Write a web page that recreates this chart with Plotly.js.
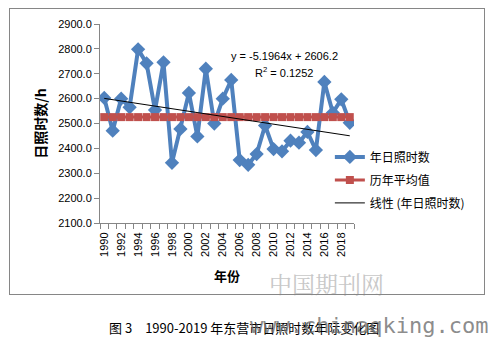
<!DOCTYPE html>
<html><head><meta charset="utf-8">
<script src="https://cdn.plot.ly/plotly-3.0.1.min.js"></script>
<style>
html,body{margin:0;padding:0;background:#fff;}
#wrap{position:relative;width:494px;height:343px;}
#frame{position:absolute;left:9px;top:8px;width:476px;height:287px;border:1px solid #868686;box-sizing:border-box;pointer-events:none;}
#chart{position:absolute;left:0;top:0;width:494px;height:343px;}
</style></head>
<body><div id="wrap"><div id="chart"></div><div id="frame"></div></div>
<script>
const years = [1990,1991,1992,1993,1994,1995,1996,1997,1998,1999,2000,2001,2002,2003,2004,2005,2006,2007,2008,2009,2010,2011,2012,2013,2014,2015,2016,2017,2018,2019];
const sunshineHours = [2603,2471,2600,2565,2798,2742,2554,2746,2342,2478,2623,2448,2720,2500,2600,2675,2353,2334,2377,2492,2397,2388,2431,2423,2466,2393,2667,2543,2597,2503];
const averageHours = [2525.7,2525.7,2525.7,2525.7,2525.7,2525.7,2525.7,2525.7,2525.7,2525.7,2525.7,2525.7,2525.7,2525.7,2525.7,2525.7,2525.7,2525.7,2525.7,2525.7,2525.7,2525.7,2525.7,2525.7,2525.7,2525.7,2525.7,2525.7,2525.7,2525.7];
const trendYears = [1990, 2019];
const trendValues = [2601.0, 2450.5];
const xTickLabels = ["1990","1992","1994","1996","1998","2000","2002","2004","2006","2008","2010","2012","2014","2016","2018"];
const xTickVals = [1990,1992,1994,1996,1998,2000,2002,2004,2006,2008,2010,2012,2014,2016,2018];
const yTickVals = [2100,2200,2300,2400,2500,2600,2700,2800,2900];
const yTickLabels = ["2100.0","2200.0","2300.0","2400.0","2500.0","2600.0","2700.0","2800.0","2900.0"];

const numFont = "Liberation Sans, Arial, sans-serif";
const cjkFont = "Noto Sans CJK SC, sans-serif";

const traces = [
  {x: years, y: sunshineHours, name: "年日照时数", type: "scatter", mode: "lines+markers", legendgroup: "g1",
   line: {color: "#4F81BD", width: 4}, marker: {symbol: "diamond", size: 11, color: "#4F81BD"}},
  {x: years, y: averageHours, name: "历年平均值", type: "scatter", mode: "lines+markers", legendgroup: "g2",
   line: {color: "#C0504D", width: 3}, marker: {symbol: "square", size: 8, color: "#C0504D"}},
  {x: trendYears, y: trendValues, name: "线性 (年日照时数)", type: "scatter", mode: "lines", legendgroup: "g3",
   line: {color: "#000000", width: 1}}
];

const layout = {
  width: 494, height: 343,
  margin: {l: 100, r: 140, t: 24, b: 120},
  paper_bgcolor: "rgba(0,0,0,0)", plot_bgcolor: "rgba(0,0,0,0)",
  showlegend: true,
  legend: {x: 0.905, y: 0.405, xanchor: "left", yanchor: "top", bgcolor: "rgba(0,0,0,0)",
           font: {family: cjkFont, size: 12, color: "#000"}, itemwidth: 30, tracegroupgap: 4},
  xaxis: {range: [1989.5, 2019.5], tickmode: "array", tickvals: xTickVals, ticktext: xTickLabels,
          tickangle: -90, ticks: "", showgrid: false, zeroline: false, ticklabelstandoff: 4,
          showline: true, linecolor: "#868686", linewidth: 1,
          tickfont: {family: numFont, size: 11, color: "#000"},
          minor: {tickmode: "linear", tick0: 1989.5, dtick: 1, ticks: "outside", ticklen: 5, tickcolor: "#868686", showgrid: false},
          title: {text: "<b>年份</b>", font: {family: cjkFont, size: 13, color: "#000"}, standoff: 16}},
  yaxis: {range: [2100, 2900], tickmode: "array", tickvals: yTickVals, ticktext: yTickLabels,
          ticks: "outside", ticklen: 5, tickcolor: "#868686", showgrid: false, zeroline: false,
          showline: true, linecolor: "#868686", linewidth: 1,
          tickfont: {family: numFont, size: 11, color: "#000"},
          title: {text: "<b>日照时数/h</b>", font: {family: cjkFont, size: 14, color: "#000"}, standoff: 8}},
  annotations: [
    {xref: "paper", yref: "paper", x: (284-100)/254, y: (223-56)/199, xanchor: "center", yanchor: "middle", text: "y = -5.1964x + 2606.2",
     showarrow: false, font: {family: numFont, size: 11, color: "#000"}},
    {xref: "paper", yref: "paper", x: (284-100)/254, y: (223-72)/199, xanchor: "center", yanchor: "middle", text: "R<sup>2</sup> = 0.1252",
     showarrow: false, font: {family: numFont, size: 11, color: "#000"}},
    {xref: "paper", yref: "paper", x: (326-100)/254, y: (223-283)/199, xanchor: "center", yanchor: "middle", text: "中国期刊网",
     showarrow: false, font: {family: "Noto Serif CJK SC, Noto Sans CJK SC, serif", size: 23, color: "#c8c8c8"}},
    {xref: "paper", yref: "paper", x: (107-100)/254, y: (223-327)/199, xanchor: "left", yanchor: "middle", text: "图 3　1990-2019 年东营市日照时数年际变化图",
     showarrow: false, font: {family: cjkFont, size: 13, color: "#000"}},
    {xref: "paper", yref: "paper", x: (490-100)/254, y: (223-325)/199, xanchor: "right", yanchor: "middle", text: "www.chinaqking.com",
     showarrow: false, font: {family: "DejaVu Sans Mono, monospace", size: 22, color: "rgba(110,110,110,0.8)"}}
  ]
};

Plotly.newPlot("chart", traces, layout, {displayModeBar: false, staticPlot: true});
</script></body></html>
